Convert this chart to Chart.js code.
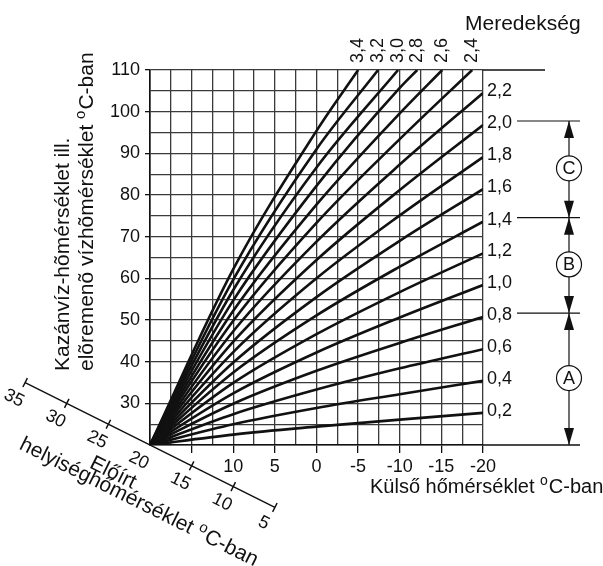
<!DOCTYPE html>
<html>
<head>
<meta charset="utf-8">
<script src="https://cdn.jsdelivr.net/npm/chart.js@4"></script>
<style>
  html, body { margin: 0; padding: 0; background: #fff; }
  canvas { display: block; }
</style>
</head>
<body>
<canvas id="chart" width="603" height="566"></canvas>
<script>
// heating curves, values

const outsideTemps = [20, 10, 0, -10, -20];

const slopeLabels = ["0,2", "0,4", "0,6", "0,8", "1,0", "1,2", "1,4", "1,6", "1,8",
  "2,0", "2,2", "2,4", "2,6", "2,8", "3,0", "3,2", "3,4"];

// flow temperature at each outside temp (shorter rows leave the grid at the top)
const flowTemps = [
  [20, 22.5, 24.4, 26.1, 27.7],
  [20, 25.0, 28.9, 32.2, 35.4],
  [20, 27.4, 33.3, 38.4, 43.0],
  [20, 29.9, 37.8, 44.5, 50.7],
  [20, 32.4, 42.2, 50.6, 58.4],
  [20, 34.9, 46.6, 56.7, 66.0],
  [20, 37.4, 51.1, 62.8, 73.6],
  [20, 39.8, 55.5, 69.0, 81.4],
  [20, 42.3, 60.0, 75.1, 89.1],
  [20, 44.8, 64.4, 81.2, 96.8],
  [20, 47.3, 68.8, 87.3, 104.5],
  [20, 49.8, 73.3, 93.4],
  [20, 52.2, 77.7, 99.6],
  [20, 54.7, 82.2, 105.7],
  [20, 57.2, 86.6],
  [20, 59.7, 91.0],
  [20, 62.2, 95.4],
];

// outside temp where a curve reaches 110 (null = runs to -20)
const topExit = [null, null, null, null, null, null, null, null, null, null, null,
  -18.7, -15.1, -12.1, -9.8, -7.4, -5.0];

const roomTemps = [35, 30, 25, 20, 15, 10, 5];

const rangeLetters = ["C", "B", "A"];
const rangeTop = ["2,0", "1,4", "0,8"];
const rangeBottom = ["1,4", "0,8", null];

const FONT = "'Liberation Sans', Arial, sans-serif";
const INK = "#111";

const datasets = flowTemps.map((row, i) => {
  const pts = row.map((t, j) => ({ x: outsideTemps[j], y: t }));
  if (topExit[i] !== null) pts.push({ x: topExit[i], y: 110 });
  return {
    label: slopeLabels[i],
    data: pts,
    borderColor: INK,
    borderWidth: 2.6,
    pointRadius: 0,
    fill: false,
    cubicInterpolationMode: "monotone",
  };
});

// text with a small raised "o" before C
function supText(ctx, before, after, size, x, y) {
  ctx.font = size + "px " + FONT;
  ctx.fillText(before, x, y);
  let w = ctx.measureText(before).width;
  ctx.font = Math.round(size * 0.72) + "px " + FONT;
  ctx.fillText("o", x + w, y - size * 0.28);
  w += ctx.measureText("o").width + 1;
  ctx.font = size + "px " + FONT;
  ctx.fillText(after, x + w, y);
  return w + ctx.measureText(after).width;
}

function arrowHead(ctx, x, tip, dir) {
  ctx.beginPath();
  ctx.moveTo(x, tip);
  ctx.lineTo(x - 5, tip + dir * 17);
  ctx.lineTo(x + 5, tip + dir * 17);
  ctx.closePath();
  ctx.fill();
}

const extras = {
  id: "extras",
  afterDraw(chart) {
    const ctx = chart.ctx;
    const xs = chart.scales.x;
    const ys = chart.scales.y;
    const a = chart.chartArea;
    ctx.save();
    ctx.fillStyle = INK;
    ctx.strokeStyle = INK;

    // lines running past the grid
    ctx.lineWidth = 1.4;
    ctx.beginPath();
    ctx.moveTo(a.right, a.top); ctx.lineTo(545, a.top);
    ctx.moveTo(a.right, a.bottom); ctx.lineTo(580, a.bottom);
    ctx.stroke();

    // slope labels on the right
    const endY = {};
    ctx.font = "18px " + FONT;
    ctx.textBaseline = "middle";
    ctx.textAlign = "left";
    flowTemps.forEach((row, i) => {
      if (topExit[i] !== null) return;
      const py = ys.getPixelForValue(row[row.length - 1]) - 2;
      endY[slopeLabels[i]] = py;
      ctx.fillText(slopeLabels[i], a.right + 4, py);
    });

    // slope labels on top, turned
    flowTemps.forEach((row, i) => {
      if (topExit[i] === null) return;
      const px = xs.getPixelForValue(topExit[i]);
      ctx.save();
      ctx.translate(px, a.top - 7);
      ctx.rotate(-Math.PI / 2);
      ctx.fillText(slopeLabels[i], 0, 0);
      ctx.restore();
    });

    ctx.font = "21px " + FONT;
    ctx.textBaseline = "alphabetic";
    ctx.fillText("Meredekség", 465, 30);

    // ranges A, B, C
    const bx = 569;
    rangeLetters.forEach((letter, i) => {
      const y1 = endY[rangeTop[i]] - 2;
      const y2 = rangeBottom[i] ? endY[rangeBottom[i]] - 2 : a.bottom;
      ctx.lineWidth = 1.2;
      ctx.beginPath();
      ctx.moveTo(517, y1); ctx.lineTo(580, y1);
      ctx.moveTo(bx, y1); ctx.lineTo(bx, y2);
      ctx.stroke();
      arrowHead(ctx, bx, y1, 1);
      arrowHead(ctx, bx, y2, -1);
      const cy = (y1 + y2) / 2 - 1;
      ctx.beginPath();
      ctx.arc(bx, cy, 12.5, 0, Math.PI * 2);
      ctx.fillStyle = "#fff";
      ctx.fill();
      ctx.stroke();
      ctx.fillStyle = INK;
      ctx.font = "18px " + FONT;
      ctx.textAlign = "center";
      ctx.textBaseline = "middle";
      ctx.fillText(letter, bx, cy + 1);
      ctx.textAlign = "left";
    });

    // slanted room temperature axis
    const ox = xs.getPixelForValue(20);
    const oy = a.bottom;
    const k = 0.5;
    const ang = Math.atan(k);
    const ux = Math.cos(ang), uy = Math.sin(ang);
    const pos = t => {
      const px = xs.getPixelForValue(t);
      return [px, oy + (px - ox) * k];
    };
    const p0 = pos(roomTemps[0]);
    const p1 = pos(roomTemps[roomTemps.length - 1]);
    ctx.lineWidth = 1.5;
    ctx.beginPath();
    ctx.moveTo(p0[0], p0[1]); ctx.lineTo(p1[0], p1[1]);
    roomTemps.forEach(t => {
      if (t === 20) return;
      const [px, py] = pos(t);
      ctx.moveTo(px + uy * 5, py - ux * 5);
      ctx.lineTo(px - uy * 5, py + ux * 5);
    });
    ctx.stroke();

    ctx.font = "18px " + FONT;
    ctx.textAlign = "center";
    ctx.textBaseline = "middle";
    roomTemps.forEach(t => {
      const [px, py] = pos(t);
      const lx = px - uy * 19 - ux * 3;
      const ly = py + ux * 19 - uy * 3;
      ctx.save();
      ctx.translate(lx, ly);
      ctx.rotate(ang);
      ctx.fillText(String(t), 0, 0);
      ctx.restore();
    });

    ctx.save();
    ctx.translate(113, 473);
    ctx.rotate(ang);
    ctx.font = "21px " + FONT;
    ctx.fillText("Előírt", 0, 0);
    ctx.restore();

    ctx.save();
    ctx.translate(140, 503);
    ctx.rotate(ang);
    ctx.textAlign = "left";
    ctx.font = "21px " + FONT;
    const wHel = ctx.measureText("helyiséghőmérséklet ").width +
      ctx.measureText("C-ban").width + 12;
    supText(ctx, "helyiséghőmérséklet ", "C-ban", 21, -wHel / 2, 0);
    ctx.restore();

    // axis titles
    ctx.textAlign = "left";
    ctx.textBaseline = "middle";
    supText(ctx, "Külső hőmérséklet ", "C-ban", 20, 370, 487);

    ctx.save();
    ctx.translate(63, 371);
    ctx.rotate(-Math.PI / 2);
    ctx.font = "21px " + FONT;
    ctx.fillText("Kazánvíz-hõmérséklet ill.", 0, 0);
    ctx.restore();

    ctx.save();
    ctx.translate(87, 371);
    ctx.rotate(-Math.PI / 2);
    supText(ctx, "elõremenõ vízhõmérséklet ", "C-ban", 21, 0, 0);
    ctx.restore();

    ctx.restore();
  },
};

new Chart(document.getElementById("chart"), {
  type: "line",
  data: { datasets: datasets },
  options: {
    responsive: false,
    animation: false,
    layout: { padding: { left: 0, right: 120, top: 70, bottom: 81 } },
    plugins: { legend: { display: false }, tooltip: { enabled: false } },
    scales: {
      x: {
        type: "linear",
        reverse: true,
        min: -20,
        max: 20,
        afterFit: (s) => { s.height = 40; },
        ticks: {
          stepSize: 2.5,
          autoSkip: false,
          maxRotation: 0,
          padding: 3,
          color: INK,
          font: { size: 18, family: FONT },
          callback: (v) => (v % 5 === 0 && v <= 10 ? String(v) : ""),
        },
        grid: {
          color: "#3a3a3a",
          lineWidth: 1.3,
          tickLength: 8,
          tickColor: (c) => (c.tick && c.tick.value % 5 === 0 && c.tick.value < 20 ? INK : "rgba(0,0,0,0)"),
        },
        border: { color: INK, width: 1.6 },
      },
      y: {
        min: 20,
        max: 110,
        afterFit: (s) => { s.width = 150; },
        ticks: {
          stepSize: 5,
          autoSkip: false,
          padding: 5,
          color: INK,
          font: { size: 18, family: FONT },
          callback: (v) => (v % 10 === 0 && v > 20 ? String(v) : ""),
        },
        grid: {
          color: "#3a3a3a",
          lineWidth: 1.3,
          tickLength: 5,
          tickColor: (c) => (c.tick && c.tick.value % 10 === 0 && c.tick.value > 20 ? INK : "rgba(0,0,0,0)"),
        },
        border: { color: INK, width: 1.6 },
      },
    },
  },
  plugins: [extras],
});
</script>
</body>
</html>
